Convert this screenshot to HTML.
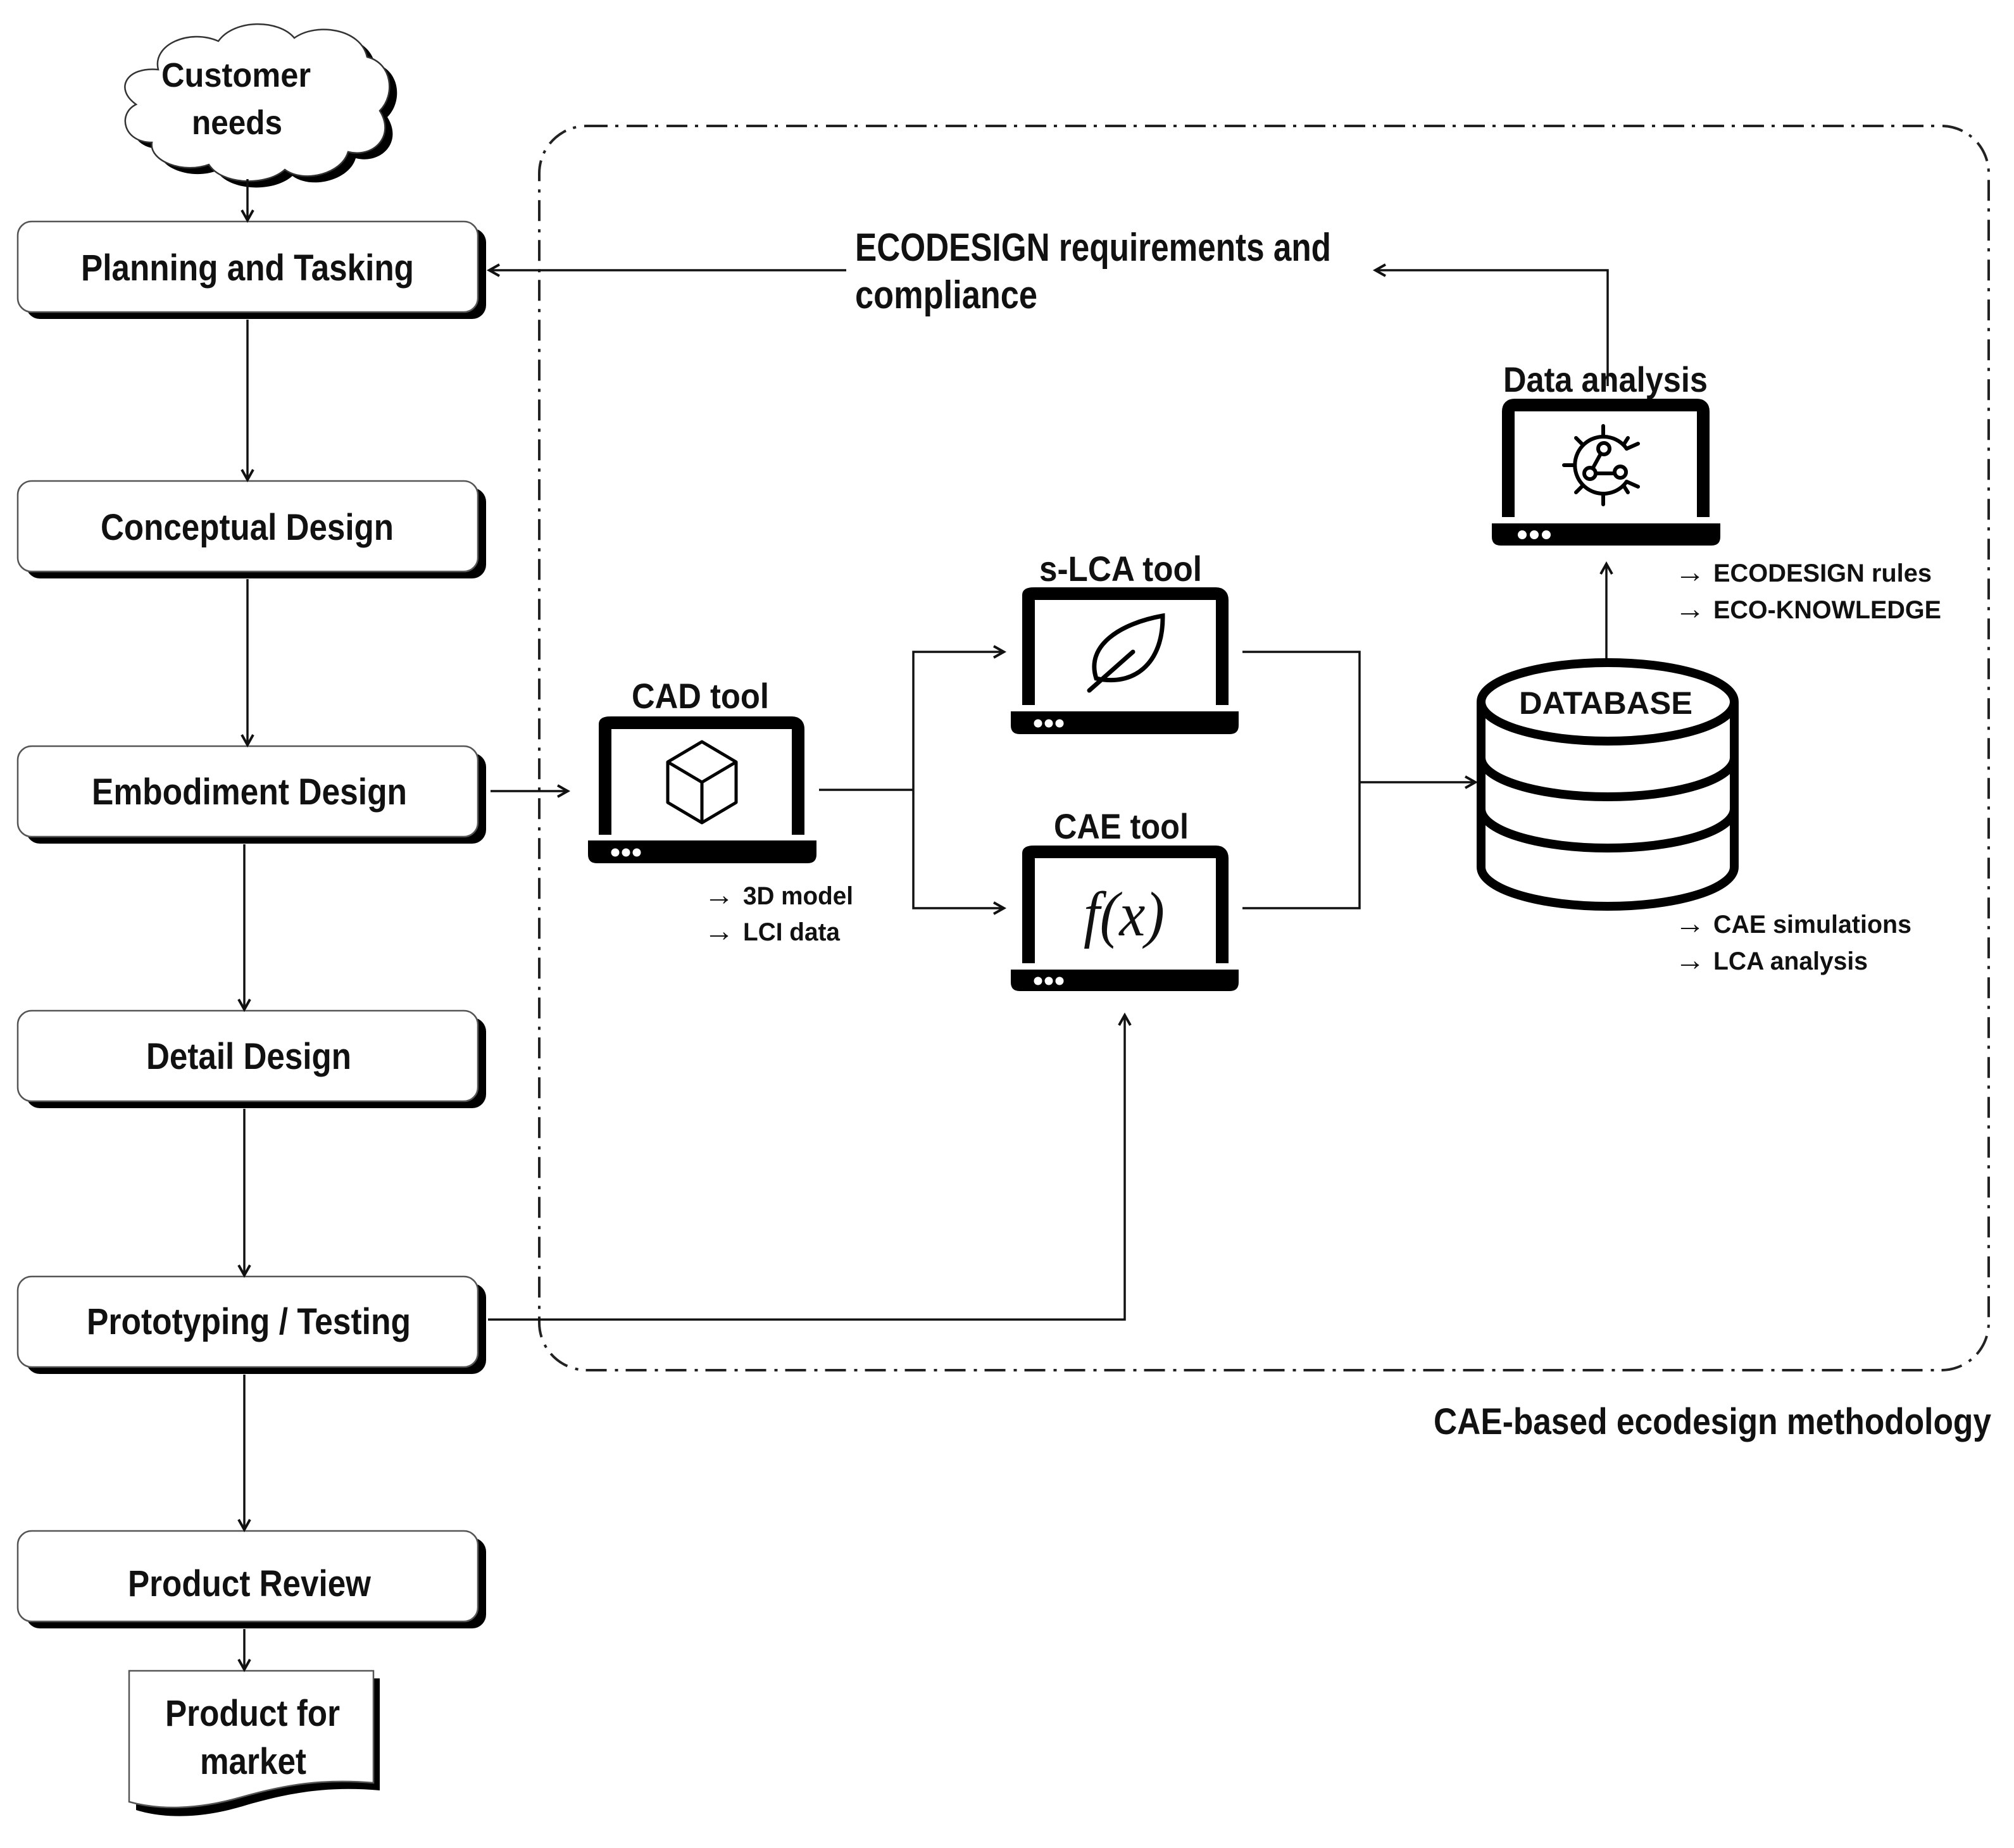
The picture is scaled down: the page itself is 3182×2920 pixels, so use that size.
<!DOCTYPE html>
<html><head><meta charset="utf-8"><style>
html,body{margin:0;padding:0;background:#fff}
svg{display:block}
text{font-family:"Liberation Sans",Arial,sans-serif;font-weight:bold;fill:#111}
</style></head><body>
<svg width="3182" height="2920" viewBox="0 0 3182 2920" xmlns="http://www.w3.org/2000/svg">
<defs>
<marker id="ar" markerWidth="30" markerHeight="30" refX="22" refY="12" orient="auto" markerUnits="userSpaceOnUse">
<path d="M6,3 L22,12 L6,21" fill="none" stroke="#111" stroke-width="4"/>
</marker>
</defs>

<rect x="852" y="199" width="2290" height="1966" rx="75" ry="75" fill="none" stroke="#222" stroke-width="4" stroke-dasharray="33 12 5 13"/>

<g>
<path transform="translate(12,10)" d="M250,110 C240,70 300,45 345,65 C370,30 440,30 465,60 C500,35 570,45 580,90 C620,100 625,150 600,175 C625,215 590,250 550,240 C540,275 480,290 450,268 C420,295 350,292 330,260 C290,275 235,255 240,225 C195,225 185,180 215,165 C180,140 200,105 250,110 Z" fill="#000"/>
<path d="M250,110 C240,70 300,45 345,65 C370,30 440,30 465,60 C500,35 570,45 580,90 C620,100 625,150 600,175 C625,215 590,250 550,240 C540,275 480,290 450,268 C420,295 350,292 330,260 C290,275 235,255 240,225 C195,225 185,180 215,165 C180,140 200,105 250,110 Z" fill="#fff" stroke="#333" stroke-width="2.5"/>
<text x="255" y="137" font-size="54" textLength="236" lengthAdjust="spacingAndGlyphs">Customer</text>
<text x="303" y="212" font-size="54" textLength="143" lengthAdjust="spacingAndGlyphs">needs</text>
</g>

<g>
<rect x="41" y="361" width="727" height="143" rx="22" fill="#000"/>
<rect x="28" y="350" width="727" height="143" rx="22" fill="#fff" stroke="#555" stroke-width="2.5"/>
<text x="128" y="443" font-size="58" textLength="526" lengthAdjust="spacingAndGlyphs">Planning and Tasking</text>

<rect x="41" y="771" width="727" height="143" rx="22" fill="#000"/>
<rect x="28" y="760" width="727" height="143" rx="22" fill="#fff" stroke="#555" stroke-width="2.5"/>
<text x="159" y="853" font-size="58" textLength="463" lengthAdjust="spacingAndGlyphs">Conceptual Design</text>

<rect x="41" y="1190" width="727" height="143" rx="22" fill="#000"/>
<rect x="28" y="1179" width="727" height="143" rx="22" fill="#fff" stroke="#555" stroke-width="2.5"/>
<text x="145" y="1271" font-size="58" textLength="498" lengthAdjust="spacingAndGlyphs">Embodiment Design</text>

<rect x="41" y="1608" width="727" height="143" rx="22" fill="#000"/>
<rect x="28" y="1597" width="727" height="143" rx="22" fill="#fff" stroke="#555" stroke-width="2.5"/>
<text x="231" y="1689" font-size="58" textLength="324" lengthAdjust="spacingAndGlyphs">Detail Design</text>

<rect x="41" y="2028" width="727" height="143" rx="22" fill="#000"/>
<rect x="28" y="2017" width="727" height="143" rx="22" fill="#fff" stroke="#555" stroke-width="2.5"/>
<text x="137" y="2108" font-size="58" textLength="512" lengthAdjust="spacingAndGlyphs">Prototyping / Testing</text>

<rect x="41" y="2430" width="727" height="143" rx="22" fill="#000"/>
<rect x="28" y="2419" width="727" height="143" rx="22" fill="#fff" stroke="#555" stroke-width="2.5"/>
<text x="202" y="2522" font-size="58" textLength="384" lengthAdjust="spacingAndGlyphs">Product Review</text>
</g>

<path d="M215,2652 H600 V2829 C520,2822 460,2832 390,2852 C320,2874 260,2874 215,2860 Z" fill="#000"/>
<path d="M204,2640 H590 V2817 C510,2810 450,2820 380,2840 C310,2860 250,2860 204,2847 Z" fill="#fff" stroke="#555" stroke-width="2.5"/>
<text x="261" y="2727" font-size="58" textLength="276" lengthAdjust="spacingAndGlyphs">Product for</text>
<text x="316" y="2803" font-size="58" textLength="168" lengthAdjust="spacingAndGlyphs">market</text>

<g stroke="#111" stroke-width="3.5" fill="none">
<line x1="391" y1="283" x2="391" y2="348" marker-end="url(#ar)"/>
<line x1="391" y1="505" x2="391" y2="758" marker-end="url(#ar)"/>
<line x1="391" y1="915" x2="391" y2="1177" marker-end="url(#ar)"/>
<line x1="386" y1="1334" x2="386" y2="1595" marker-end="url(#ar)"/>
<line x1="386" y1="1752" x2="386" y2="2015" marker-end="url(#ar)"/>
<line x1="386" y1="2172" x2="386" y2="2417" marker-end="url(#ar)"/>
<line x1="386" y1="2574" x2="386" y2="2638" marker-end="url(#ar)"/>
<line x1="775" y1="1250" x2="897" y2="1250" marker-end="url(#ar)"/>
<polyline points="771,2085 1777,2085 1777,1604" marker-end="url(#ar)"/>
<line x1="1337" y1="427" x2="773" y2="427" marker-end="url(#ar)"/>
<polyline points="2540,610 2540,427 2173,427" marker-end="url(#ar)"/>
<line x1="1294" y1="1248" x2="1443" y2="1248"/>
<polyline points="1443,1248 1443,1030 1586,1030" marker-end="url(#ar)"/>
<polyline points="1443,1248 1443,1435 1586,1435" marker-end="url(#ar)"/>
<polyline points="1963,1030 2148,1030 2148,1435 1963,1435"/>
<line x1="2148" y1="1236" x2="2331" y2="1236" marker-end="url(#ar)"/>
<line x1="2538" y1="1042" x2="2538" y2="891" marker-end="url(#ar)"/>
</g>

<text x="1351" y="412" font-size="62" textLength="752" lengthAdjust="spacingAndGlyphs">ECODESIGN requirements and</text>
<text x="1351" y="487" font-size="62" textLength="288" lengthAdjust="spacingAndGlyphs">compliance</text>

<g fill="none" stroke="#000" stroke-width="20" stroke-linejoin="round">
<path d="M956,1319 V1144 Q956,1142 966,1142 H1251 Q1261,1142 1261,1152 V1319"/>
<path d="M1625,1114 V940 Q1625,938 1635,938 H1921 Q1931,938 1931,948 V1114"/>
<path d="M1625,1522 V1348 Q1625,1346 1635,1346 H1921 Q1931,1346 1931,1356 V1522"/>
<path d="M2383,817 V650 Q2383,640 2393,640 H2681 Q2691,640 2691,650 V817"/>
</g>
<g fill="#000">
<path d="M929,1328 H1290 V1350 Q1290,1364 1276,1364 H943 Q929,1364 929,1350 Z"/>
<path d="M1597,1124 H1957 V1146 Q1957,1160 1943,1160 H1611 Q1597,1160 1597,1146 Z"/>
<path d="M1597,1532 H1957 V1552 Q1957,1566 1943,1566 H1611 Q1597,1566 1597,1552 Z"/>
<path d="M2357,827 H2718 V848 Q2718,862 2704,862 H2371 Q2357,862 2357,848 Z"/>
</g>
<g fill="#fff">
<circle cx="972" cy="1347" r="6.5"/><circle cx="989" cy="1347" r="6.5"/><circle cx="1006" cy="1347" r="6.5"/>
<circle cx="1640" cy="1143" r="6.5"/><circle cx="1657" cy="1143" r="6.5"/><circle cx="1674" cy="1143" r="6.5"/>
<circle cx="1640" cy="1550" r="6.5"/><circle cx="1657" cy="1550" r="6.5"/><circle cx="1674" cy="1550" r="6.5"/>
<circle cx="2405" cy="845" r="7"/><circle cx="2424" cy="845" r="7"/><circle cx="2443" cy="845" r="7"/>
</g>

<g fill="none" stroke="#000" stroke-width="5" stroke-linejoin="round">
<polygon points="1109,1172 1163,1204 1163,1268 1109,1300 1055,1268 1055,1204"/>
<polyline points="1055,1204 1109,1236 1163,1204"/>
<line x1="1109" y1="1236" x2="1109" y2="1300"/>
</g>
<g fill="none" stroke="#000" stroke-width="7" stroke-linecap="round">
<path d="M1837,973 C1770,985 1715,1020 1732,1072 C1790,1085 1838,1050 1837,973 Z"/>
<line x1="1790" y1="1030" x2="1721" y2="1091"/>
</g>
<text x="1712" y="1478" font-size="100" font-style="italic" textLength="128" lengthAdjust="spacingAndGlyphs" style="font-family:'Liberation Serif',serif;font-weight:normal">f(x)</text>
<g fill="none" stroke="#000" stroke-width="6" stroke-linecap="round">
<path d="M2570,709 A45,45 0 1,0 2570,761"/>
<path d="M2533,690 V673 M2533,780 V797 M2488,735 H2471 M2501,703 L2490,692 M2501,767 L2490,778 M2565,767 L2572,778 M2565,703 L2572,692 M2570,709 L2588,701 M2570,761 L2588,769"/>
<circle cx="2534" cy="709" r="9"/><circle cx="2512" cy="748" r="9"/><circle cx="2560" cy="746" r="9"/>
<path d="M2529,717 L2517,739 M2521,748 H2551"/>
</g>

<g fill="#fff" stroke="#000" stroke-width="14">
<path d="M2340,1109 V1370 A200,62 0 0,0 2740,1370 V1109"/>
<path d="M2340,1197 A200,62 0 0,0 2740,1197" fill="none"/>
<path d="M2340,1278 A200,62 0 0,0 2740,1278" fill="none"/>
<ellipse cx="2540" cy="1109" rx="200" ry="62"/>
</g>
<text x="2400" y="1128" font-size="50" textLength="274" lengthAdjust="spacingAndGlyphs">DATABASE</text>

<text x="998" y="1119" font-size="56" textLength="217" lengthAdjust="spacingAndGlyphs">CAD tool</text>
<text x="1642" y="918" font-size="56" textLength="257" lengthAdjust="spacingAndGlyphs">s-LCA tool</text>
<text x="1665" y="1325" font-size="56" textLength="213" lengthAdjust="spacingAndGlyphs">CAE tool</text>
<text x="2375" y="619" font-size="56" textLength="323" lengthAdjust="spacingAndGlyphs">Data analysis</text>

<g font-size="40">
<text x="1112" y="1430" font-size="48" style="font-weight:normal">→</text>
<text x="1174" y="1429" textLength="174" lengthAdjust="spacingAndGlyphs">3D model</text>
<text x="1112" y="1487" font-size="48" style="font-weight:normal">→</text>
<text x="1174" y="1486" textLength="153" lengthAdjust="spacingAndGlyphs">LCI data</text>
<text x="2646" y="920" font-size="48" style="font-weight:normal">→</text>
<text x="2707" y="919" textLength="345" lengthAdjust="spacingAndGlyphs">ECODESIGN rules</text>
<text x="2646" y="978" font-size="48" style="font-weight:normal">→</text>
<text x="2707" y="977" textLength="360" lengthAdjust="spacingAndGlyphs">ECO-KNOWLEDGE</text>
<text x="2646" y="1475" font-size="48" style="font-weight:normal">→</text>
<text x="2707" y="1474" textLength="313" lengthAdjust="spacingAndGlyphs">CAE simulations</text>
<text x="2646" y="1533" font-size="48" style="font-weight:normal">→</text>
<text x="2707" y="1532" textLength="244" lengthAdjust="spacingAndGlyphs">LCA analysis</text>
</g>

<text x="2265" y="2266" font-size="58" textLength="881" lengthAdjust="spacingAndGlyphs">CAE-based ecodesign methodology</text>
</svg>
</body></html>
